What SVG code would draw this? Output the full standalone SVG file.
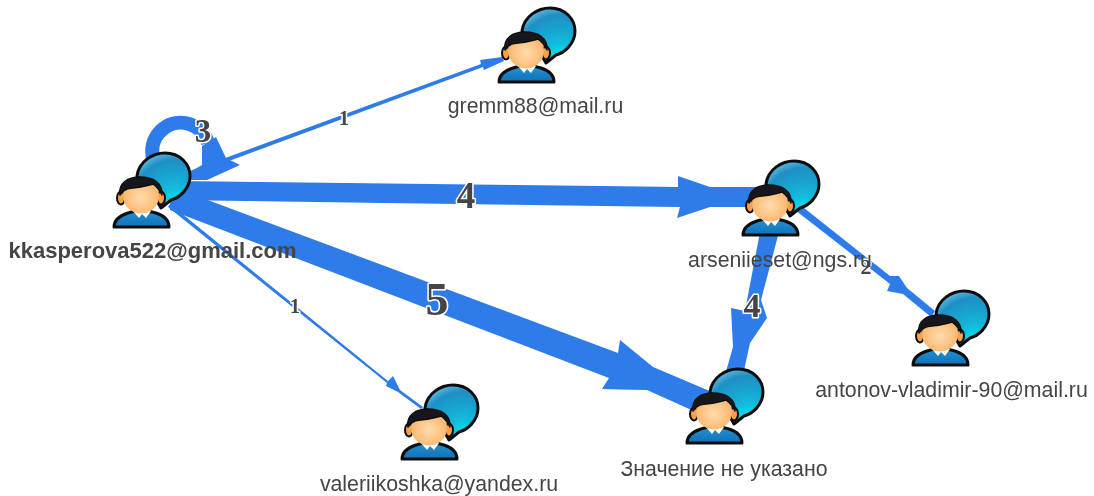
<svg xmlns="http://www.w3.org/2000/svg" width="1094" height="496" viewBox="0 0 1094 496">
<style>
.e{fill:#2e7bea;stroke:none}
.r{fill:none;stroke:#2e7bea;stroke-width:14}
.n{font-family:"Liberation Sans",Arial,sans-serif;font-size:21.3px;fill:#444;text-anchor:middle}
.b{font-weight:bold;font-size:22px}
.w{font-family:"Liberation Serif","Times New Roman",serif;font-weight:bold;fill:#444;text-anchor:middle;stroke:#fff;stroke-width:3px;paint-order:stroke;stroke-linejoin:round}
</style>
<defs>
<filter id="soft" x="-5%" y="-5%" width="110%" height="110%"><feGaussianBlur stdDeviation="0.5"/></filter>
<radialGradient id="bub" cx="0.72" cy="0.92" r="1"><stop offset="0" stop-color="#00eaf0"/><stop offset="0.35" stop-color="#14b4d8"/><stop offset="0.8" stop-color="#1f8fc6"/><stop offset="1" stop-color="#6cc0e4"/></radialGradient>
<linearGradient id="shirt" x1="0" y1="0" x2="0" y2="1"><stop offset="0" stop-color="#1f93d8"/><stop offset="1" stop-color="#1470b4"/></linearGradient>
<radialGradient id="face" cx="0.5" cy="0.55" r="0.6"><stop offset="0" stop-color="#ffdcae"/><stop offset="1" stop-color="#fbb060"/></radialGradient>
<g id="user">
<path d="M22 22C24 7 38 -1 50 -1C65 -1 75 10 75 22C75 35 64 44 56 46L46 54L38 40Z" fill="url(#bub)" stroke="#111" stroke-width="3" stroke-linejoin="round"/>
<path d="M-1 73C-1 66 4 62 13 59L20 57H33L41 59C50 62 54 66 54 73Z" fill="url(#shirt)" stroke="#111" stroke-width="3" stroke-linejoin="round"/>
<ellipse cx="6" cy="44" rx="4" ry="6.500" fill="#f8a04c" stroke="#111" stroke-width="2"/>
<ellipse cx="46" cy="44" rx="4" ry="6.500" fill="#f8a04c" stroke="#111" stroke-width="2"/>
<path d="M18 57L24 64L27 60L31 64L36 57L27 54Z" fill="#fff"/>
<ellipse cx="26" cy="42" rx="18" ry="17.500" fill="url(#face)"/>
<path d="M5 41C3 29 13 23 25 23C38 23 48 29 47 41C45 36 42 33 38 30C30 33 17 34 12 35C9 36 7 38 5 41Z" fill="#16181d" stroke="#111" stroke-width="1.500" stroke-linejoin="round"/>
</g>
</defs>
<rect width="1094" height="496" fill="#fff"/>
<g id="diagram" filter="url(#soft)">
<g id="connectors">
<path class="e" d="M190 171L481 64L480 60L502 57L504 61L484 70L483 67L191 175Z"/>
<path class="e" d="M170 204L388 381L393 376L400 390L423 407L421 409L398 392L386 386L387 383L168 207Z"/>
<path class="e" d="M175 181L678 187L678 176L710 187H760V207H710L677 218L680 207L175 200Z"/>
<path class="e" d="M170 186L618 353L620 340L653 367L712 392L696 412L647 390L602 389L609 378L170 210Z"/>
<path class="e" d="M760 232H779L761 300L767 318L750 343L743 375H725L733 347L731 308L745 311Z"/>
<path class="e" d="M799 204L890 276L899 276L907 288L935 311L931 317L903 294L887 291L890 284L795 210Z"/>
<path class="r" d="M165 175A28.500 28.500 0 1 1 208 143"/>
<path class="e" d="M202 146L216 137L226 158L240 165L207 180L190 180L190 172L202 165Z"/>
</g>
<g id="edge-labels">
<text class="w" x="344" y="125" font-size="20">1</text>
<text class="w" x="203" y="142" font-size="33">3</text>
<text class="w" x="466" y="208" font-size="37">4</text>
<text class="w" x="437" y="315" font-size="46">5</text>
<text class="w" x="752" y="317" font-size="34">4</text>
<text class="w" x="866" y="274" font-size="22">2</text>
<text class="w" x="295" y="313" font-size="20">1</text>
</g>
<g id="node-kkasperova"><use href="#user" x="115" y="154"/><text class="n b" x="152.500" y="258">kkasperova522@gmail.com</text></g>
<g id="node-gremm"><use href="#user" x="500" y="9"/><text class="n" x="535.500" y="113">gremm88@mail.ru</text></g>
<g id="node-arsenii"><use href="#user" x="744" y="162"/><text class="n" x="780" y="267">arseniieset@ngs.ru</text></g>
<g id="node-znachenie"><use href="#user" x="688" y="370"/><text class="n" x="724" y="476">Значение не указано</text></g>
<g id="node-antonov"><use href="#user" x="914" y="292"/><text class="n" x="951.500" y="397">antonov-vladimir-90@mail.ru</text></g>
<g id="node-valerii"><use href="#user" x="403" y="386"/><text class="n" x="439" y="491">valeriikoshka@yandex.ru</text></g>
</g>
</svg>
